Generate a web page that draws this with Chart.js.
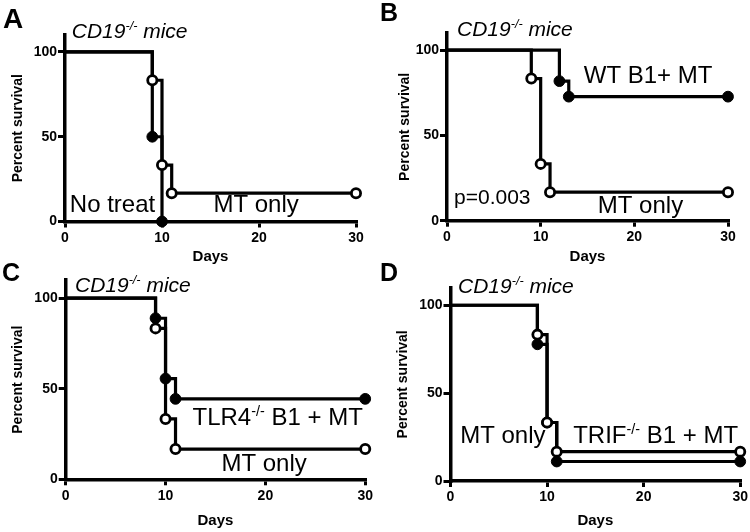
<!DOCTYPE html>
<html><head><meta charset="utf-8">
<script src="https://cdn.jsdelivr.net/npm/chart.js@4"></script>
<style>
html,body{margin:0;padding:0;background:#fff;}
#wrap{position:relative;width:750px;height:532px;overflow:hidden;background:#fff;}
.panel{position:absolute;width:375px;height:266px;}
.letter{position:absolute;font-family:'Liberation Sans',Arial,sans-serif;font-weight:bold;line-height:1;color:#000;}
</style></head><body>
<div id="wrap">
  <div class="panel" style="left:0;top:0"><canvas id="cA" width="375" height="266"></canvas></div>
  <div class="panel" style="left:375px;top:0"><canvas id="cB" width="375" height="266"></canvas></div>
  <div class="panel" style="left:0;top:266px"><canvas id="cC" width="375" height="266"></canvas></div>
  <div class="panel" style="left:375px;top:266px"><canvas id="cD" width="375" height="266"></canvas></div>
  <div class="letter" style="left:3px;top:5px;font-size:28px">A</div>
  <div class="letter" style="left:380px;top:0px;font-size:25px">B</div>
  <div class="letter" style="left:2px;top:260px;font-size:25px">C</div>
  <div class="letter" style="left:380px;top:260px;font-size:25px">D</div>
</div>
<script>
// ---- data ----
const daysMTonly = [0, 9, 10, 11, 30];
const survMTonly = [100, 83.3, 33.3, 16.7, 16.7];
const daysNoTreat = [0, 9, 10];
const survNoTreat = [100, 50, 0];
const daysWTB1 = [0, 12, 13, 30];
const survWTB1 = [100, 81.8, 72.7, 72.7];
const daysTLR4 = [0, 9, 10, 11, 30];
const survTLR4 = [100, 88.9, 55.6, 44.4, 44.4];
const daysTRIF = [0, 9, 10, 11, 30];
const survTRIF = [100, 77.8, 33.3, 11.1, 11.1];
const xTicks = [0, 10, 20, 30];
const yTicks = [0, 50, 100];
const xLabel = 'Days';
const yLabel = 'Percent survival';

const FAM = "'Liberation Sans', Arial, Helvetica, sans-serif";

const textPlugin = {
  id: 'kmText',
  afterDraw(chart, args, opts) {
    const ctx = chart.ctx, xs = chart.scales.x, ys = chart.scales.y;
    (opts.items || []).forEach(it => {
      let px = xs.getPixelForValue(it.x);
      const py = ys.getPixelForValue(it.y);
      ctx.save();
      ctx.fillStyle = '#000';
      ctx.textBaseline = 'alphabetic';
      ctx.textAlign = 'left';
      it.parts.forEach(p => {
        const size = p.sup ? it.size * 0.6 : it.size;
        ctx.font = (it.italic ? 'italic ' : '') + size + 'px ' + FAM;
        const dy = p.sup ? -it.size * 0.38 : 0;
        ctx.fillText(p.t, px, py + dy);
        px += ctx.measureText(p.t).width;
      });
      ctx.restore();
    });
  }
};

function cd19(x, y) {
  return {x, y, size: 21, italic: true, parts: [{t: 'CD19'}, {t: '-/-', sup: true}, {t: ' mice'}]};
}
function lbl(text, x, y, size) { return {x, y, size: size || 24, parts: [{t: text}]}; }

function makeChart(id, cfg) {
  const datasets = cfg.series.map(s => ({
    data: s.days.map((d, i) => ({x: d, y: s.surv[i]})),
    stepped: 'before',
    borderColor: '#000',
    borderWidth: 3.2,
    fill: false,
    tension: 0,
    clip: false,
    order: s.order,
    pointRadius: c => c.dataIndex === 0 ? 0 : (s.open ? 4.6 : 5.4),
    pointBackgroundColor: s.open ? '#fff' : '#000',
    pointBorderColor: '#000',
    pointBorderWidth: s.open ? 2.8 : 1,
    pointHoverRadius: 0
  }));
  new Chart(document.getElementById(id), {
    type: 'line',
    data: {datasets},
    plugins: [textPlugin],
    options: {
      responsive: false,
      animation: false,
      events: [],
      layout: {padding: {left: 0, top: cfg.top, right: cfg.right, bottom: 0}},
      plugins: {
        legend: {display: false},
        tooltip: {enabled: false},
        kmText: {items: cfg.texts}
      },
      scales: {
        x: {
          type: 'linear', min: 0, max: 30,
          afterBuildTicks: s => { s.ticks = xTicks.map(v => ({value: v})); },
          afterFit: s => { s.height = cfg.xH; },
          grid: {display: true, drawOnChartArea: false, drawTicks: true, tickLength: 6, color: '#000', lineWidth: 3},
          border: {display: true, color: '#000', width: 3.5},
          ticks: {color: '#000', font: {family: FAM, size: 14, weight: 'bold'}, padding: 2, maxRotation: 0, autoSkip: false},
          title: {display: true, text: xLabel, color: '#000', font: {family: FAM, size: 15, weight: 'bold'}, padding: {top: 0, bottom: cfg.xTitlePad}}
        },
        y: {
          type: 'linear', min: 0, max: 110,
          afterBuildTicks: s => { s.ticks = yTicks.map(v => ({value: v})); },
          afterFit: s => { s.width = cfg.yW; },
          grid: {display: true, drawOnChartArea: false, drawTicks: true, tickLength: 7, color: '#000', lineWidth: 3},
          border: {display: true, color: '#000', width: 3.5},
          ticks: {color: '#000', font: {family: FAM, size: 14, weight: 'bold'}, padding: 1, autoSkip: false},
          title: {display: true, text: yLabel, color: '#000', font: {family: FAM, size: 14, weight: 'bold'}, padding: {top: cfg.yTitlePad, bottom: 0}}
        }
      }
    }
  });
}

makeChart('cA', {
  top: 35, right: 19, yW: 65, xH: 44.5, yTitlePad: 10.1, xTitlePad: 0,
  series: [
    {days: daysNoTreat, surv: survNoTreat, open: false, order: 2},
    {days: daysMTonly, surv: survMTonly, open: true, order: 1}
  ],
  texts: [cd19(0.7, 108.3), lbl('No treat', 0.5, 5.6), lbl('MT only', 15.3, 5.6)]
});
makeChart('cB', {
  top: 33, right: 22, yW: 72, xH: 45.3, yTitlePad: 21.6, xTitlePad: 0,
  series: [
    {days: daysWTB1, surv: survWTB1, open: false, order: 2},
    {days: daysMTonly, surv: survMTonly, open: true, order: 1}
  ],
  texts: [cd19(1.07, 108.2), lbl('WT B1+ MT', 14.6, 80.7), lbl('MT only', 16.1, 4.5), lbl('p=0.003', 0.75, 9.8, 21)]
});
makeChart('cC', {
  top: 14, right: 9, yW: 65.7, xH: 52.7, yTitlePad: 10.1, xTitlePad: 2,
  series: [
    {days: daysTLR4, surv: survTLR4, open: false, order: 1},
    {days: daysMTonly, surv: survMTonly, open: true, order: 2}
  ],
  texts: [cd19(0.93, 103.5),
    {x: 12.7, y: 30, size: 24, parts: [{t: 'TLR4'}, {t: '-/-', sup: true}, {t: ' B1 + MT'}]},
    lbl('MT only', 15.6, 4.6)]
});
makeChart('cD', {
  top: 21.7, right: 9.5, yW: 75.5, xH: 51, yTitlePad: 20.1, xTitlePad: 2,
  series: [
    {days: daysTRIF, surv: survTRIF, open: false, order: 2},
    {days: daysMTonly, surv: survMTonly, open: true, order: 1}
  ],
  texts: [cd19(0.78, 107), lbl('MT only', 1.0, 21.6),
    {x: 12.7, y: 21.6, size: 24, parts: [{t: 'TRIF'}, {t: '-/-', sup: true}, {t: ' B1 + MT'}]}]
});
</script>
</body></html>
